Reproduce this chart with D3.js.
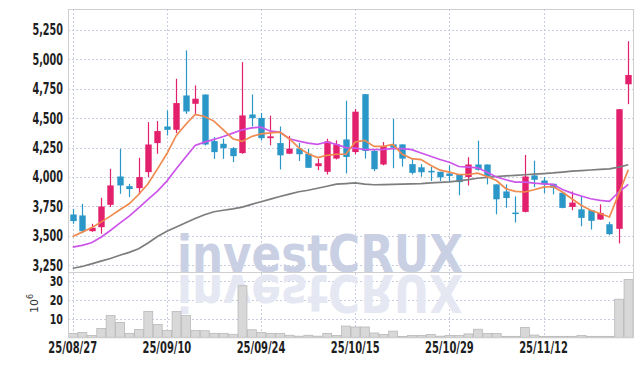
<!DOCTYPE html>
<html><head><meta charset="utf-8">
<script src="https://cdn.jsdelivr.net/npm/d3@7"></script>
<style>
html,body{margin:0;padding:0;background:#fff;}
svg{display:block;}
</style></head>
<body><svg id="c" width="642" height="366"></svg>
<script>
const dates = ["25/08/27","25/08/28","25/08/29","25/09/01","25/09/02","25/09/03","25/09/04","25/09/05","25/09/08","25/09/09",
"25/09/10","25/09/11","25/09/12","25/09/15","25/09/16","25/09/17","25/09/18","25/09/19","25/09/22","25/09/23",
"25/09/24","25/09/25","25/09/26","25/09/29","25/09/30","25/10/01","25/10/02","25/10/10","25/10/13","25/10/14",
"25/10/15","25/10/16","25/10/17","25/10/20","25/10/21","25/10/22","25/10/23","25/10/24","25/10/27","25/10/28",
"25/10/29","25/10/30","25/10/31","25/11/03","25/11/04","25/11/05","25/11/06","25/11/07","25/11/10","25/11/11",
"25/11/12","25/11/13","25/11/14","25/11/17","25/11/18","25/11/19","25/11/20","25/11/21","25/11/24","25/11/25"];
const opens = [3682,3674,3540,3574,3764,4005,3923,3906,4042,4289,4430,4402,4694,4623,4702,4306,4283,4246,4204,4532,
4503,4331,4289,4199,4242,4199,4093,4045,4157,4320,4213,4705,4222,4107,4278,4278,4110,4083,4053,4045,
4030,4022,4000,4107,4107,3938,3878,3698,3704,4014,3971,3943,3867,3746,3726,3718,3639,3599,3560,4789];
const highs = [3730,3773,3603,3824,4070,4240,3943,4164,4467,4476,4566,4836,5077,4779,4702,4340,4326,4255,4977,4702,
4545,4522,4430,4351,4289,4239,4157,4326,4312,4649,4579,4705,4230,4298,4494,4278,4157,4110,4087,4045,
4100,4022,4169,4310,4107,3938,3938,3836,4188,4140,4000,3943,3870,3878,3839,3718,3768,3619,4577,5155];
const lows = [3603,3523,3535,3518,3745,3858,3830,3852,4000,4198,4354,4374,4538,4538,4269,4155,4155,4127,4198,4430,
4312,4270,4065,4195,4137,4079,4059,4022,4150,4031,4194,4157,4050,4100,4075,4089,4022,4003,3967,3967,
3960,3845,3929,4055,3938,3684,3740,3614,3700,3915,3864,3853,3735,3718,3582,3554,3635,3506,3436,4620];
const closes = [3626,3540,3569,3750,3929,3929,3898,4000,4277,4391,4402,4629,4558,4666,4277,4212,4246,4178,4524,4501,
4331,4346,4185,4242,4194,4079,4117,4303,4278,4171,4556,4222,4067,4261,4250,4157,4036,4041,4047,3998,
4010,3957,4107,4062,4008,3811,3822,3692,4005,3977,3938,3909,3738,3783,3653,3628,3695,3515,4577,4868];
const ma5 = [3495,3532,3569,3617,3668,3722,3773,3852,3943,4070,4198,4354,4447,4532,4515,4476,4402,4326,4303,4345,
4368,4376,4382,4326,4250,4199,4166,4185,4194,4194,4298,4312,4261,4261,4278,4194,4157,4149,4101,4059,
4042,4022,4022,4033,4005,3971,3901,3878,3873,3892,3915,3920,3873,3816,3760,3718,3690,3661,3859,4062];
const ma20 = [3404,3419,3441,3489,3546,3608,3668,3739,3810,3881,3966,4070,4170,4269,4297,4320,4345,4374,4402,4419,
4424,4390,4382,4326,4306,4289,4278,4298,4278,4250,4247,4233,4233,4236,4242,4242,4233,4205,4177,4149,
4126,4090,4084,4079,4042,4000,3977,3957,3957,3949,3943,3938,3895,3864,3839,3816,3802,3794,3873,3938];
const ma60 = [3225,3240,3262,3285,3308,3335,3360,3390,3440,3495,3540,3575,3612,3648,3680,3705,3718,3730,3745,3768,
3790,3812,3835,3855,3875,3888,3905,3922,3940,3945,3950,3940,3935,3936,3938,3940,3942,3945,3950,3955,
3960,3968,3978,3990,3998,4005,4010,4015,4020,4025,4030,4035,4042,4050,4055,4060,4065,4070,4085,4105];
const volumes = [2.1,2.6,1.0,4.7,11.6,7.9,2.1,4.2,13.7,6.8,3.7,13.7,11.7,3.6,3.5,2.1,2.1,1.6,27.5,4.0,
2.6,2.1,2.1,1.1,0.6,1.1,0.6,2.1,1.0,6.0,5.5,5.5,2.3,1.5,3.3,0.5,1.0,1.0,1.5,0.6,
1.0,1.0,1.8,4.3,2.0,2.0,0.5,0.5,5.2,1.2,0.5,0.5,0.5,0.5,1.0,0.5,0.5,0.5,20.3,30.8];
const priceTicks = [3250,3500,3750,4000,4250,4500,4750,5000,5250];
const volTicks = [10,20,30];
const dateTickLabels = ["25/08/27","25/09/10","25/09/24","25/10/15","25/10/29","25/11/12"];
const volUnit = "10";
const volExp = "6";
const watermark = "investCRUX";

const L = 68, R = 633, T = 9, MB = 272, VB = 337.3;
const svg = d3.select("#c");
const font = "'DejaVu Sans Condensed','Liberation Sans Narrow',sans-serif";

const x = d3.scaleBand().domain(dates).range([L, R]).padding(0);
const bw = x.bandwidth();
const cx = d => x(d) + bw / 2;
const y = d3.scaleLinear().domain([3193, 5429]).range([MB, T]);
const yv = d3.scaleLinear().domain([0, 34.8]).range([VB, MB]);

const gridCol = "#c9cde0";
const g = svg.append("g");
g.selectAll(".hg").data(priceTicks).join("line")
  .attr("x1", L).attr("x2", R).attr("y1", d => Math.round(y(d)) + 0.5).attr("y2", d => Math.round(y(d)) + 0.5)
  .attr("stroke", gridCol).attr("stroke-dasharray", "2,2");
g.selectAll(".vg").data(volTicks).join("line")
  .attr("x1", L).attr("x2", R).attr("y1", d => Math.round(yv(d)) + 0.5).attr("y2", d => Math.round(yv(d)) + 0.5)
  .attr("stroke", gridCol).attr("stroke-dasharray", "2,2");
g.selectAll(".xg").data(dateTickLabels).join("line")
  .attr("x1", d => Math.round(cx(d)) + 0.5).attr("x2", d => Math.round(cx(d)) + 0.5)
  .attr("y1", T).attr("y2", VB).attr("stroke", gridCol).attr("stroke-dasharray", "2,2");

// watermark
const wm = svg.append("g");
wm.append("text").attr("x", 177).attr("y", 272).text(watermark)
  .attr("font-family", "'DejaVu Sans',sans-serif").attr("font-weight", "bold")
  .attr("font-size", 52).attr("textLength", 286).attr("lengthAdjust", "spacingAndGlyphs")
  .attr("fill", "#c9d0e4");
wm.append("text").attr("x", 177).attr("y", -275).attr("transform", "scale(1,-1)").text(watermark)
  .attr("font-family", "'DejaVu Sans',sans-serif").attr("font-weight", "bold")
  .attr("font-size", 52).attr("textLength", 286).attr("lengthAdjust", "spacingAndGlyphs")
  .attr("fill", "#e5e7f2");

// volume bars
svg.append("g").selectAll("rect").data(volumes).join("rect")
  .attr("x", (d, i) => x(dates[i]) + 0.5).attr("width", bw - 0.5)
  .attr("y", d => yv(d)).attr("height", d => VB - yv(d))
  .attr("fill", "#d8d8d8").attr("stroke", "#b9b9b9").attr("stroke-width", 0.8);

// candles
const up = "#e2206b", down = "#2b97c9";
const cg = svg.append("g");
const idx = d3.range(dates.length);
cg.selectAll(".w").data(idx).join("line")
  .attr("x1", i => Math.round(cx(dates[i])) + 0.5).attr("x2", i => Math.round(cx(dates[i])) + 0.5)
  .attr("y1", i => y(highs[i])).attr("y2", i => y(lows[i]))
  .attr("stroke", i => closes[i] >= opens[i] ? up : down).attr("stroke-width", 1.2);
const bodyW = 6.4;
cg.selectAll(".b").data(idx).join("rect")
  .attr("x", i => Math.round(cx(dates[i])) + 0.5 - bodyW / 2).attr("width", bodyW)
  .attr("y", i => y(Math.max(opens[i], closes[i])))
  .attr("height", i => Math.max(1.5, Math.abs(y(opens[i]) - y(closes[i]))))
  .attr("fill", i => closes[i] >= opens[i] ? up : down);

// MA lines
const line = arr => d3.line().x((d, i) => cx(dates[i])).y(d => y(d))(arr);
svg.append("path").attr("d", line(ma60)).attr("fill", "none").attr("stroke", "#7d7d7d").attr("stroke-width", 1.7);
svg.append("path").attr("d", line(ma20)).attr("fill", "none").attr("stroke", "#cc55ea").attr("stroke-width", 1.7);
svg.append("path").attr("d", line(ma5)).attr("fill", "none").attr("stroke", "#f08a4f").attr("stroke-width", 1.7);

// borders
const bc = "#cfcfcf";
svg.append("rect").attr("x", L + 0.5).attr("y", T + 0.5).attr("width", R - L).attr("height", VB - T)
  .attr("fill", "none").attr("stroke", bc);
svg.append("line").attr("x1", L).attr("x2", R).attr("y1", MB + 0.5).attr("y2", MB + 0.5).attr("stroke", bc);

// axes
const yAxis = d3.axisLeft(y).tickValues(priceTicks).tickSize(0).tickPadding(5).tickFormat(d3.format(","));
const ya = svg.append("g").attr("transform", `translate(${L},0)`).call(yAxis);
const vAxis = d3.axisLeft(yv).tickValues(volTicks).tickSize(0).tickPadding(5).tickFormat(d3.format("d"));
const va = svg.append("g").attr("transform", `translate(${L},0)`).call(vAxis);
const xAxis = d3.axisBottom(x).tickValues(dateTickLabels).tickSize(0).tickPadding(4);
const xa = svg.append("g").attr("transform", `translate(0,${VB})`).call(xAxis);
[[ya, 15], [va, 14], [xa, 16]].forEach(([a, fs]) => {
  a.select(".domain").remove();
  a.selectAll("text").attr("font-family", font).attr("font-size", fs).attr("font-weight", "bold")
    .attr("fill", "#1e1e1e");
});
function condense(sel, k) {
  sel.selectAll("text").each(function () {
    const w = this.getComputedTextLength();
    d3.select(this).attr("textLength", w * k).attr("lengthAdjust", "spacingAndGlyphs");
  });
}
condense(ya, 0.715); condense(va, 0.76); condense(xa, 0.69);

// volume unit label
const ul = svg.append("text").attr("transform", "translate(38,313) rotate(-90)")
  .attr("font-family", "'DejaVu Sans',sans-serif").attr("font-size", 11).attr("fill", "#333");
ul.append("tspan").text(volUnit);
ul.append("tspan").attr("dy", -5).attr("font-size", 8).text(volExp);
</script></body></html>
